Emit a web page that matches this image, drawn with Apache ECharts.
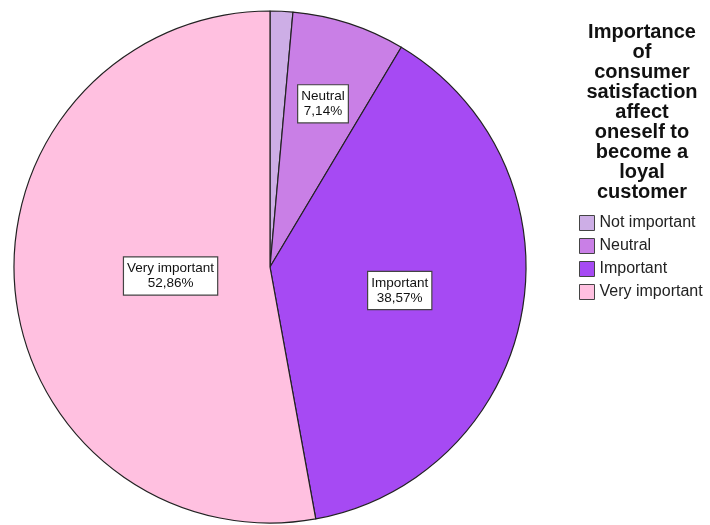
<!DOCTYPE html>
<html>
<head>
<meta charset="utf-8">
<script src="https://cdn.jsdelivr.net/npm/echarts@6/dist/echarts.min.js"></script>
<style>html,body{margin:0;padding:0;background:#fff;}#c{width:710px;height:525px;}</style>
</head>
<body>
<div id="c"></div>
<script>
const categories = ['Not important', 'Neutral', 'Important', 'Very important'];
const values = [1.43, 7.14, 38.57, 52.86];
const labelTexts = ['1,43%', '7,14%', '38,57%', '52,86%'];
const titleLines = ['Importance', 'of', 'consumer', 'satisfaction', 'affect', 'oneself to', 'become a', 'loyal', 'customer'];

const colors = ['#cdaee6', '#c97fe6', '#a64af3', '#ffc0e0'];
const labelRadiusRatio = [0.5, 0.67, 0.515, 0.39];
const cx = 270, cy = 267, R = 256;
const total = values.reduce((a, b) => a + b, 0);

const chart = echarts.init(document.getElementById('c'), null, {renderer: 'canvas'});
chart.setOption({
  animation: false,
  backgroundColor: '#ffffff',
  title: {
    text: titleLines.join('\n'),
    left: 642, top: 22, textAlign: 'center', padding: 0,
    textStyle: {fontFamily: 'Liberation Sans, Arial, sans-serif', fontWeight: 'bold', fontSize: 20, lineHeight: 20, color: '#111'}
  },
  legend: {
    orient: 'vertical', left: 579, top: 215, padding: 0,
    itemWidth: 15, itemHeight: 15, itemGap: 7,
    icon: 'rect',
    data: categories,
    textStyle: {fontFamily: 'Liberation Sans, Arial, sans-serif', fontSize: 16, color: '#222'},
    itemStyle: {borderColor: '#444', borderWidth: 1}
  },
  series: [{
    type: 'pie',
    center: [cx, cy],
    radius: [0, R],
    startAngle: 90,
    clockwise: true,
    color: colors,
    itemStyle: {borderColor: '#222', borderWidth: 1.2},
    emphasis: {disabled: true},
    label: {
      show: true, position: 'inside',
      formatter: p => p.name + '\n' + labelTexts[p.dataIndex],
      fontFamily: 'Liberation Sans, Arial, sans-serif', fontSize: 13.5, lineHeight: 15, color: '#111',
      backgroundColor: '#fff', borderColor: '#444', borderWidth: 1.2, padding: [4, 3, 3, 3], align: 'center'
    },
    labelLine: {show: false},
    labelLayout: function (p) {
      const i = p.dataIndex;
      let start = 0;
      for (let k = 0; k < i; k++) start += values[k];
      const mid = (start + values[i] / 2) / total * Math.PI * 2;
      const r = labelRadiusRatio[i] * R;
      return {x: cx + r * Math.sin(mid), y: cy - r * Math.cos(mid), align: 'center', verticalAlign: 'middle'};
    },
    data: categories.map((c, i) => ({
      name: c, value: values[i],
      label: i === 0 ? {show: false} : undefined
    }))
  }]
});
</script>
</body>
</html>
